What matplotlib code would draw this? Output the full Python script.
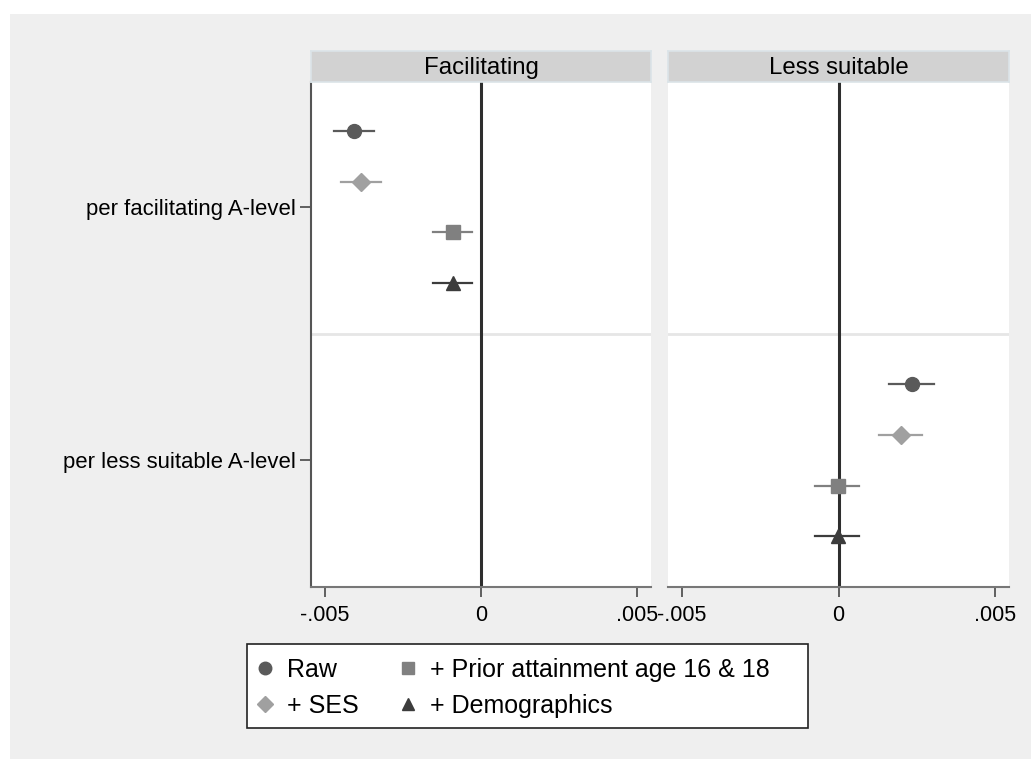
import matplotlib.pyplot as plt
from matplotlib.lines import Line2D
from matplotlib.patches import Rectangle

plt.rcParams['font.family'] = ['Liberation Sans', 'DejaVu Sans']

# coefficients
panels = ["Facilitating", "Less suitable"]
rows = ["per facilitating A-level", "per less suitable A-level"]
models = ["Raw", "+ SES", "+ Prior attainment age 16 & 18", "+ Demographics"]

fac_est = [-0.00408, -0.00385, -0.00089, -0.00089]
fac_lo = [-0.00471, -0.00449, -0.00153, -0.00153]
fac_hi = [-0.00344, -0.00322, -0.00029, -0.00029]

less_est = [0.00234, 0.00199, -0.00001, -0.00002]
less_lo = [0.00163, 0.00131, -0.00074, -0.00074]
less_hi = [0.00304, 0.00266, 0.00064, 0.00064]

xticks = [-0.005, 0, 0.005]
xticklabels = ["-.005", "0", ".005"]

colors = ['#5a5a5a', '#a0a0a0', '#808080', '#3c3c3c']
markers = ['o', 'D', 's', '^']
msizes = [10, 9, 9.5, 10]

W, H = 1031, 759
fig = plt.figure(figsize=(W / 100, H / 100), dpi=100)
fig.patch.set_facecolor('white')
fig.patches.append(Rectangle((10 / W, 0), 1, 1 - 14 / H, transform=fig.transFigure,
                             facecolor='#efefef', edgecolor='none', zorder=-10))

# positions in pixels: left edge, right edge
panel_px = [(311, 651), (668, 1009)]
top_px, bot_px, strip_top = 82, 587, 51

data = [(fac_est, fac_lo, fac_hi, 0), (less_est, less_lo, less_hi, 5)]

for p, (x0, x1) in enumerate(panel_px):
    ax = fig.add_axes([x0 / W, 1 - bot_px / H, (x1 - x0) / W, (bot_px - top_px) / H])
    ax.set_facecolor('white')
    est, lo, hi, start = data[p]
    for i in range(4):
        y = start + i
        ax.plot([lo[i], hi[i]], [y, y], color=colors[i], lw=1.6, zorder=3)
        ax.plot(est[i], y, marker=markers[i], color=colors[i], ms=msizes[i],
                mec=colors[i], ls='none', zorder=4)
    ax.axvline(0, color='#2e2e2e', lw=2.2, zorder=2)
    ax.axhline(4, color='#e6e6e6', lw=2, zorder=1)
    ax.set_xlim(-0.00545, 0.00545)
    ax.set_ylim(9, -0.97)
    ax.set_xticks(xticks)
    ax.set_xticklabels(xticklabels, fontsize=15.5)
    ax.tick_params(axis='x', length=7, width=1.3, color='#555555', pad=6)
    for s in ['top', 'right']:
        ax.spines[s].set_visible(False)
    ax.spines['bottom'].set_color('#777777')
    ax.spines['bottom'].set_linewidth(1.5)
    if p == 0:
        ax.set_yticks([1.5, 6.5])
        ax.set_yticklabels(rows, fontsize=15.9)
        ax.tick_params(axis='y', length=8, width=1.3, color='#555555', pad=3)
        ax.spines['left'].set_color('#555555')
        ax.spines['left'].set_linewidth(1.5)
    else:
        ax.set_yticks([])
        ax.spines['left'].set_visible(False)

    # strip header
    sax = fig.add_axes([x0 / W, 1 - top_px / H, (x1 - x0) / W, (top_px - strip_top) / H])
    sax.set_facecolor('#d2d2d2')
    sax.set_xticks([])
    sax.set_yticks([])
    for s in sax.spines.values():
        s.set_color('#dbe4e8')
        s.set_linewidth(1.2)
    sax.text(0.5, 0.45, panels[p], ha='center', va='center', fontsize=17.3,
             transform=sax.transAxes)

# legend box drawn separately (Stata puts more room on the right)
fig.patches.append(Rectangle((247 / W, 1 - 728 / H), (808 - 247) / W, (728 - 644) / H,
                             transform=fig.transFigure, facecolor='white',
                             edgecolor='#222222', lw=1.2, zorder=1))

handles = [Line2D([], [], marker=markers[i], color=colors[i], ls='none', ms=msizes[i] - 1)
           for i in range(4)]
leg = fig.legend(handles, models, loc='center', bbox_to_anchor=(512.5 / W, 1 - 688 / H),
                 ncol=2, fontsize=18, frameon=False, handlelength=0.8,
                 handletextpad=0.5, columnspacing=1.55, labelspacing=0.48,
                 borderpad=0.3)
leg.set_zorder(5)

fig.savefig('out.png', dpi=100, facecolor=fig.get_facecolor())
